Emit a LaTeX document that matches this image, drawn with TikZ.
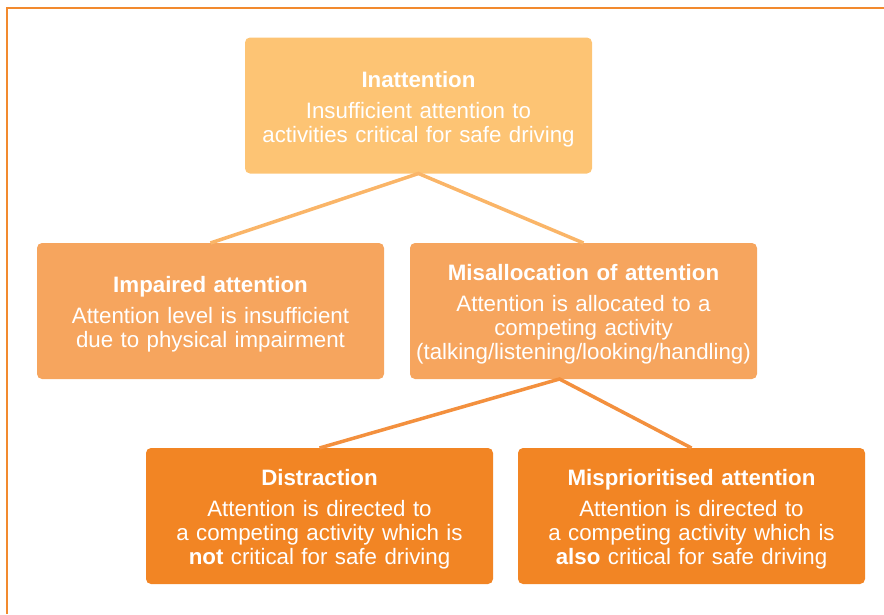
\documentclass[tikz,border=0pt]{standalone}
\usepackage{fontspec}
\setmainfont{Liberation Sans}
\usepackage{tikz}

\definecolor{frameorange}{HTML}{F28A2E}
\definecolor{levelone}{HTML}{FDC474}
\definecolor{leveltwo}{HTML}{F6A55E}
\definecolor{levelthree}{HTML}{F28524}
\definecolor{linkone}{HTML}{FAB568}
\definecolor{linktwo}{HTML}{F3903E}
\newcommand{\boxtitle}[1]{\rule{0pt}{23pt}\textbf{#1}\\[7pt]}

\begin{document}
\begin{tikzpicture}[x=1pt, y=-1pt,
  every node/.style={rounded corners=5pt, minimum width=347pt, minimum height=136pt, text width=347pt, inner sep=0pt, outer sep=0pt, align=center, text=white, font=\fontsize{22.3}{24}\selectfont},
  linkline/.style={line width=3.5pt}]
\useasboundingbox (0,0) rectangle (884,614);
\draw[frameorange, line width=1.3pt] (7,614) -- (7,8) -- (884,8);

\node[fill=levelone] (inatt) at (418.5,105.5) {\boxtitle{Inattention} Insufficient attention to\\ activities critical for safe driving};
\node[fill=leveltwo] (impaired) at (210.5,311) {\boxtitle{Impaired attention} Attention level is insufficient\\ due to physical impairment};
\node[fill=leveltwo] (misalloc) at (583.5,311) {\boxtitle{Misallocation of attention} Attention is allocated to a\\ competing activity\\ (talking/listening/looking/handling)};
\node[fill=levelthree] (distract) at (319.5,516) {\boxtitle{Distraction} Attention is directed to\\ a competing activity which is\\ \textbf{not} critical for safe driving};
\node[fill=levelthree] (misprior) at (691.5,516) {\boxtitle{Misprioritised attention} Attention is directed to\\ a competing activity which is\\ \textbf{also} critical for safe driving};

\draw[linkline, linkone] (impaired.north) -- (inatt.south) -- (misalloc.north);
\draw[linkline, linktwo] (distract.north) -- ([xshift=-24pt]misalloc.south) -- (misprior.north);
\end{tikzpicture}
\end{document}
